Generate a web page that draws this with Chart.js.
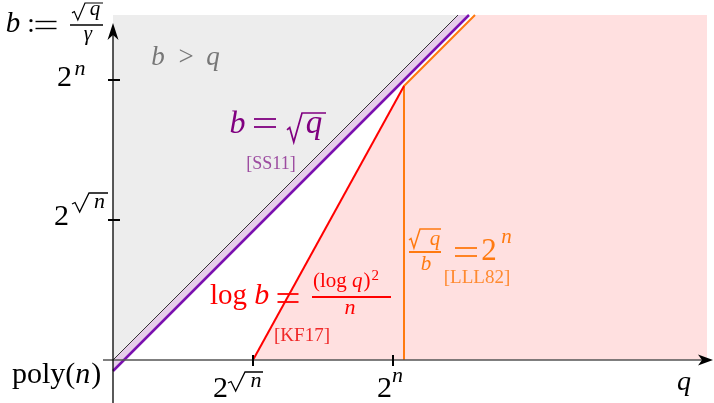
<!DOCTYPE html>
<html lang="en-US">
<head>
    <meta charset="utf-8">
    <title>Lattice regimes</title>
    <script src="https://cdn.jsdelivr.net/npm/chart.js@4/dist/chart.umd.min.js"></script>
    <style>
        html, body { margin: 0; padding: 0; background: #fff; }
        #holder { width: 714px; height: 403px; }
    </style>
</head>
<body>
<div id="holder">
    <canvas id="chart" width="714" height="403"></canvas>
</div>
<script>
    // axis units: one unit is ten pixels of the original figure, origin = (poly(n), poly(n))
    const tickValues = [14, 28];                 // 2^sqrt(n), 2^n on both axes
    const tickLabels = ['2^√n', '2^n'];

    // regions (x list, y list)
    const grayX = [0, 0, 34.5];                  // b > q
    const grayY = [0, 34.5, 34.5];
    const bandX = [0, 34.5, 35.6, 0];            // strip under b = q
    const bandY = [0, 34.5, 34.5, -1.1];
    const pinkX = [14, 29.1, 36.2, 59.4, 59.4];  // reachable region
    const pinkY = [0, 27.4, 34.5, 34.5, 0];

    // boundary curves
    const diagX = [0, 34.5];                     // b = q
    const diagY = [0, 34.5];
    const ss11X = [0, 35.6];                     // b = sqrt(q)  [SS11]
    const ss11Y = [-1.1, 34.5];
    const kf17X = [14, 29.1];                    // log b = (log q)^2 / n  [KF17]
    const kf17Y = [0, 27.4];
    const lll82X = [29.1, 29.1, 36.2];           // sqrt(q)/b = 2^n  [LLL82]
    const lll82Y = [0, 27.4, 34.5];

    const pts = (xs, ys) => xs.map((x, i) => ({x: x, y: ys[i]}));

    const SERIF = '"Liberation Serif", "DejaVu Serif", serif';

    function txt(ctx, s, x, y, size, color, italic, align) {
        ctx.font = (italic ? 'italic ' : '') + size + 'px ' + SERIF;
        ctx.fillStyle = color;
        ctx.textAlign = align || 'center';
        ctx.textBaseline = 'alphabetic';
        ctx.fillText(s, x, y);
        return ctx.measureText(s).width;
    }

    function hline(ctx, x0, x1, y, color, lw) {
        ctx.beginPath();
        ctx.moveTo(x0, y);
        ctx.lineTo(x1, y);
        ctx.strokeStyle = color;
        ctx.lineWidth = lw;
        ctx.stroke();
    }

    // wide TeX-like equals sign
    function eq(ctx, cx, cy, w, gap, color, lw) {
        hline(ctx, cx - w / 2, cx + w / 2, cy - gap / 2, color, lw);
        hline(ctx, cx - w / 2, cx + w / 2, cy + gap / 2, color, lw);
    }

    // radical sign: left x, top of overline, bottom of the v, width of the sign, end of the overline
    function rad(ctx, x, top, bot, w, end, color, lw) {
        const h = bot - top;
        ctx.beginPath();
        ctx.moveTo(x, top + 0.58 * h);
        ctx.lineTo(x + 0.18 * w, top + 0.5 * h);
        ctx.lineTo(x + 0.45 * w, bot);
        ctx.lineTo(x + w, top);
        ctx.lineTo(end, top);
        ctx.strokeStyle = color;
        ctx.lineWidth = lw || 1.3;
        ctx.lineJoin = 'miter';
        ctx.stroke();
    }

    const decorations = {
        id: 'decorations',
        afterDatasetsDraw(chart) {
            const ctx = chart.ctx;
            const xs = chart.scales.x, ys = chart.scales.y;
            const ox = xs.getPixelForValue(0), oy = ys.getPixelForValue(0);
            const X = dx => ox + dx, Y = dy => oy + dy;
            ctx.save();

            // axes
            ctx.strokeStyle = '#555';
            ctx.lineWidth = 1.3;
            ctx.beginPath();
            ctx.moveTo(X(-10), oy);
            ctx.lineTo(X(592), oy);
            ctx.stroke();
            ctx.strokeStyle = '#000';
            ctx.beginPath();
            ctx.moveTo(ox, chart.height);
            ctx.lineTo(ox, Y(-330));
            ctx.stroke();
            ctx.fillStyle = '#000';
            ctx.beginPath();      // x arrow
            ctx.moveTo(X(600), oy);
            ctx.lineTo(X(585), oy - 5.5);
            ctx.lineTo(X(589), oy);
            ctx.lineTo(X(585), oy + 5.5);
            ctx.closePath();
            ctx.fill();
            ctx.beginPath();      // y arrow
            ctx.moveTo(ox, Y(-337));
            ctx.lineTo(ox - 5.5, Y(-320));
            ctx.lineTo(ox, Y(-325));
            ctx.lineTo(ox + 5.5, Y(-320));
            ctx.closePath();
            ctx.fill();

            // tick marks
            ctx.strokeStyle = '#000';
            ctx.lineWidth = 2;
            tickValues.forEach(v => {
                const px = xs.getPixelForValue(v), py = ys.getPixelForValue(v);
                ctx.beginPath();
                ctx.moveTo(px, oy - 5); ctx.lineTo(px, oy + 6);
                ctx.moveTo(ox - 5, py); ctx.lineTo(ox + 7, py);
                ctx.stroke();
            });

            const K = '#000';
            // y label  b := sqrt(q)/gamma
            txt(ctx, 'b', X(-100), Y(-328), 29, K, true);
            txt(ctx, ':', X(-82), Y(-328), 27, K);
            eq(ctx, X(-67), Y(-335), 21, 7, K, 1.4);
            hline(ctx, X(-43), X(-10), Y(-335), K, 1.3);
            rad(ctx, X(-41), Y(-357), Y(-340), 13, X(-10), K, 1.2);
            txt(ctx, 'q', X(-18), Y(-345), 21, K, true);
            txt(ctx, 'γ', X(-25), Y(-320), 21, K, true);

            // tick labels on y
            const t0x = xs.getPixelForValue(tickValues[0]), t1x = xs.getPixelForValue(tickValues[1]);
            const t0y = ys.getPixelForValue(tickValues[0]), t1y = ys.getPixelForValue(tickValues[1]);
            txt(ctx, '2', ox - 48.5, t1y + 6, 30, K);
            txt(ctx, 'n', ox - 33, t1y - 5, 22, K, true);
            txt(ctx, '2', ox - 51.5, t0y + 5, 30, K);
            rad(ctx, ox - 41, t0y - 27, t0y - 8, 17, ox - 5, K, 1.3);
            txt(ctx, 'n', ox - 13.5, t0y - 12, 22, K, true);

            // tick labels on x
            txt(ctx, '2', t0x - 32.5, Y(37), 30, K);
            rad(ctx, t0x - 25, Y(12), Y(31), 17, t0x + 10, K, 1.3);
            txt(ctx, 'n', t0x + 3, Y(27), 22, K, true);
            txt(ctx, '2', t1x - 8.5, Y(37), 30, K);
            txt(ctx, 'n', t1x + 4.5, Y(22), 22, K, true);

            // origin label and x label
            let w = txt(ctx, 'poly(', X(-101), Y(23), 30, K, false, 'left');
            w += txt(ctx, 'n', X(-101) + w, Y(23), 30, K, true, 'left');
            txt(ctx, ')', X(-101) + w + 1, Y(23), 30, K, false, 'left');
            txt(ctx, 'q', X(571), Y(30), 28, K, true);

            // b > q
            const G = '#777';
            txt(ctx, 'b', X(45), Y(-295), 27, G, true);
            txt(ctx, '>', X(73), Y(-295), 27, G);
            txt(ctx, 'q', X(100), Y(-295), 27, G, true);

            // b = sqrt(q)  [SS11]
            const P = '#800080';
            txt(ctx, 'b', X(124.5), Y(-227), 32, P, true);
            eq(ctx, X(152), Y(-237), 22, 8, P, 1.8);
            rad(ctx, X(174), Y(-247), Y(-218), 15, X(213), P, 1.7);
            txt(ctx, 'q', X(201), Y(-227), 33, P, true);
            txt(ctx, '[SS11]', X(158), Y(-191), 18, '#9c4ca0');

            // log b = (log q)^2 / n  [KF17]
            const R = '#ff0000';
            w = txt(ctx, 'log ', X(97), Y(-56), 29, R, false, 'left');
            txt(ctx, 'b', X(97) + w, Y(-56), 30, R, true, 'left');
            eq(ctx, X(175), Y(-62), 21, 8, R, 1.8);
            hline(ctx, X(199), X(278), Y(-63), R, 2);
            w = txt(ctx, '(log ', X(200), Y(-73), 21, R, false, 'left');
            w += txt(ctx, 'q', X(200) + w, Y(-73), 21, R, true, 'left');
            w += txt(ctx, ')', X(200) + w + 1, Y(-73), 21, R, false, 'left');
            txt(ctx, '2', X(202) + w, Y(-80), 15, R, false, 'left');
            txt(ctx, 'n', X(237), Y(-46), 22, R, true);
            txt(ctx, '[KF17]', X(189), Y(-19), 19, '#f02828');

            // sqrt(q)/b = 2^n  [LLL82]
            const O = '#ff7a10';
            rad(ctx, X(296), Y(-131), Y(-112), 11, X(328), O, 1.5);
            txt(ctx, 'q', X(322), Y(-115), 21, O, true);
            hline(ctx, X(296), X(328), Y(-108), O, 2);
            txt(ctx, 'b', X(313), Y(-90), 21, O, true);
            eq(ctx, X(353), Y(-108), 22, 8, O, 1.8);
            txt(ctx, '2', X(376), Y(-100), 31, O);
            txt(ctx, 'n', X(393.5), Y(-117), 21, O, true);
            txt(ctx, '[LLL82]', X(364), Y(-77), 19, '#ff8a30');

            ctx.restore();
        }
    };

    const config = {
        type: 'line',
        data: {
            datasets: [
                // fills (higher order = drawn first)
                {data: pts(grayX, grayY), fill: 'shape', backgroundColor: '#ededed', borderWidth: 0, order: 10},
                {data: pts(pinkX, pinkY), fill: 'shape', backgroundColor: '#ffe0e0', borderWidth: 0, order: 9},
                {data: pts(bandX, bandY), fill: 'shape', backgroundColor: '#e6cdea', borderWidth: 0, order: 8},
                // boundaries
                {data: pts(diagX, diagY), borderColor: '#333', borderWidth: 1, fill: false, order: 5},
                {data: pts(ss11X, ss11Y), borderColor: '#7a10b0', borderWidth: 2.5, fill: false, order: 4},
                {data: pts(lll82X, lll82Y), borderColor: '#ff7a10', borderWidth: 2, fill: false, order: 3},
                {data: pts(kf17X, kf17Y), borderColor: '#ff0000', borderWidth: 2, fill: false, order: 2}
            ]
        },
        options: {
            responsive: false,
            animation: false,
            layout: {padding: 0, autoPadding: false},
            elements: {point: {radius: 0, hoverRadius: 0}, line: {tension: 0}},
            scales: {
                x: {type: 'linear', min: -11.3, max: 60.1, display: false},
                y: {type: 'linear', min: -4.3, max: 36.0, display: false}
            },
            plugins: {
                legend: {display: false},
                tooltip: {enabled: false}
            }
        },
        plugins: [decorations]
    };

    new Chart(document.getElementById('chart').getContext('2d'), config);
</script>
</body>
</html>
